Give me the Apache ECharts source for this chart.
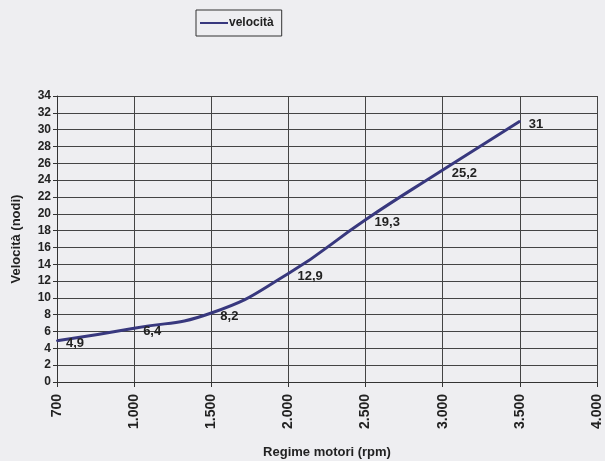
<!doctype html>
<html>
<head>
    <meta charset="utf-8">
    <title>velocità</title>
    <script src="https://cdn.jsdelivr.net/npm/echarts@6/dist/echarts.min.js"></script>
    <style>
        html, body { margin: 0; padding: 0; background: #eeeef1; }
    </style>
</head>
<body>
    <div style="width:605px;height:461px;" id="main"></div>
<script type="text/javascript">
    // dati
    var regime = ['700', '1.000', '1.500', '2.000', '2.500', '3.000', '3.500', '4.000'];
    var velocita = [4.9, 6.4, 8.2, 12.9, 19.3, 25.2, 31];

    var myChart = echarts.init(document.getElementById('main'));
    var testo = '#222';
    var option = {
        backgroundColor: '#eeeef1',
        textStyle: { fontFamily: 'Liberation Sans, Arial, sans-serif' },
        legend: {
            show: true,
            data: ['velocità'],
            left: 196,
            top: 10,
            padding: [7, 8, 7, 4],
            borderColor: '#333',
            borderWidth: 1,
            itemWidth: 28,
            itemHeight: 10,
            itemGap: 2,
            icon: 'path://M0,4 L28,4 L28,6 L0,6 Z',
            textStyle: { color: testo, fontSize: 12, fontWeight: 'bold', padding: [0, 0, 0, -4] }
        },
        grid: { left: 57, right: 8, top: 96, bottom: 79, containLabel: false, outerBoundsMode: 'none' },
        xAxis: {
            type: 'category',
            data: regime,
            boundaryGap: false,
            name: 'Regime motori (rpm)',
            nameLocation: 'middle',
            nameGap: 64,
            nameTextStyle: { color: testo, fontSize: 13, fontWeight: 'bold' },
            axisLine: { lineStyle: { color: '#333', width: 1 } },
            axisTick: { show: true, length: 5, lineStyle: { color: '#333' } },
            axisLabel: { rotate: 90, color: testo, fontSize: 14, fontWeight: 'bold', margin: 12 },
            splitLine: { show: true, lineStyle: { color: '#444', width: 1 } }
        },
        yAxis: {
            type: 'value',
            min: 0,
            max: 34,
            interval: 2,
            name: 'Velocità (nodi)',
            nameLocation: 'middle',
            nameGap: 34,
            nameTextStyle: { color: testo, fontSize: 13, fontWeight: 'bold' },
            axisLine: { show: true, lineStyle: { color: '#333', width: 1 } },
            axisTick: { show: true, length: 4, lineStyle: { color: '#333' } },
            axisLabel: { color: testo, fontSize: 12, fontWeight: 'bold', margin: 6 },
            splitLine: { show: true, lineStyle: { color: '#444', width: 1 } }
        },
        series: [{
            name: 'velocità',
            type: 'line',
            data: velocita,
            smooth: true,
            symbol: 'circle',
            symbolSize: 2,
            color: '#38387e',
            lineStyle: { color: '#38387e', width: 3 },
            itemStyle: { color: '#38387e' },
            label: {
                show: true,
                position: 'right',
                distance: 8,
                offset: [0, 3],
                color: testo,
                fontSize: 13,
                fontWeight: 'bold',
                formatter: function (p) { return String(p.value).replace('.', ','); }
            }
        }]
    };
    myChart.setOption(option);
</script>
</body>
</html>
